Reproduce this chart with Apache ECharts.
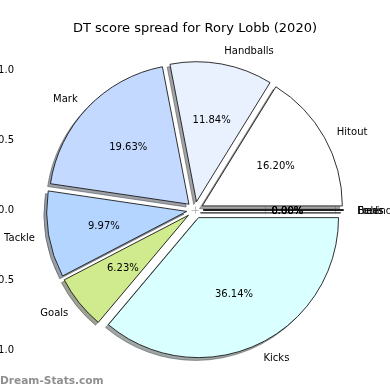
<!DOCTYPE html>
<html>
<head>
<meta charset="utf-8">
<script src="https://cdn.jsdelivr.net/npm/echarts@6/dist/echarts.min.js"></script>
<style>html,body{margin:0;padding:0;background:#fff}#chart{width:390px;height:390px}</style>
</head>
<body>
<div id="chart"></div>
<script>
const titleText = 'DT score spread for Rory Lobb (2020)';
const categories = ['Hitout', 'Handballs', 'Mark', 'Tackle', 'Goals', 'Kicks', 'Behinds', 'Frees', 'Fouls'];
const values = [156, 114, 189, 96, 60, 348, 0, 0, 0];
const colors = ['#ffffff', '#e9f1ff', '#c4d9ff', '#b4d5ff', '#d0ea8e', '#d9ffff', '#ffffff', '#ffffff', '#ffffff'];
const tickValues = [-1, -0.5, 0, 0.5, 1];
const watermark = 'Dream-Stats.com';

const EXPLODE = 0.06;
const FONT = '"DejaVu Sans", sans-serif';
const total = values.reduce((a, b) => a + b, 0);
let acc = 0;
const pieData = values.map((v, i) => { const d = [v, acc, acc + v, i]; acc += v; return d; });

function shade(hex) {
  const n = parseInt(hex.slice(1), 16);
  const r = Math.round(((n >> 16) & 255) * 0.3), g = Math.round(((n >> 8) & 255) * 0.3), b = Math.round((n & 255) * 0.3);
  return 'rgba(' + r + ',' + g + ',' + b + ',0.5)';
}

function renderItem(params, api) {
  const i = params.dataIndex;
  const v = api.value(0), s = api.value(1), e = api.value(2);
  const t1 = 2 * Math.PI * s / total, t2 = 2 * Math.PI * e / total;
  const mid = (t1 + t2) / 2;
  const ox = EXPLODE * Math.cos(mid), oy = EXPLODE * Math.sin(mid);
  const c = api.coord([ox, oy]);
  const sc = api.coord([ox - 0.02, oy - 0.02]);
  const r = api.size([1, 1])[1];
  const lx = ox + 1.1 * Math.cos(mid), ly = oy + 1.1 * Math.sin(mid);
  const lp = api.coord([lx, ly]);
  const pp = api.coord([ox + 0.6 * Math.cos(mid), oy + 0.6 * Math.sin(mid)]);
  const pct = (100 * v / total).toFixed(2) + '%';
  return {
    type: 'group',
    children: [
      { type: 'sector', z2: 0, shape: { cx: sc[0], cy: sc[1], r: r, r0: 0, startAngle: -t2, endAngle: -t1, clockwise: true },
        style: { fill: shade(colors[i]), stroke: shade(colors[i]), lineWidth: 1 } },
      { type: 'sector', z2: 1, shape: { cx: c[0], cy: c[1], r: r, r0: 0, startAngle: -t2, endAngle: -t1, clockwise: true },
        style: { fill: colors[i], stroke: '#1a1a1a', lineWidth: 0.9 } },
      { type: 'text', z2: 2, x: lp[0], y: lp[1] + 1.5,
        style: { text: categories[i], fill: '#000', font: '10px ' + FONT, align: lx > 0 ? 'left' : 'right', verticalAlign: 'middle' } },
      { type: 'text', z2: 2, x: pp[0], y: pp[1] + 1,
        style: { text: pct, fill: '#000', font: '10px ' + FONT, align: 'center', verticalAlign: 'middle' } }
    ]
  };
}

const fmt = v => v.toFixed(1).replace('-', '\u2212');
function axis(pos, showLabel, min, max, margin) {
  return {
    type: 'value', position: pos, min: min, max: max,
    splitLine: { show: false }, axisLine: { show: false },
    axisTick: { show: true, customValues: tickValues, length: 3.5, lineStyle: { color: '#bbbbbb', width: 1 } },
    axisLabel: { show: showLabel, customValues: tickValues, formatter: fmt, margin: margin, fontSize: 10, fontFamily: FONT, color: '#000' }
  };
}

const chart = echarts.init(document.getElementById('chart'), null, { renderer: 'canvas' });
chart.setOption({
  backgroundColor: '#fff',
  animation: false,
  title: { text: titleText, left: 'center', top: 17, textStyle: { fontFamily: FONT, fontSize: 13, fontWeight: 'normal', color: '#000' } },
  grid: { left: 21, right: 21, top: 35, bottom: 5, containLabel: false, outerBoundsMode: 'none' },
  xAxis: [axis('bottom', true, -1.243, 1.243, 6), axis('top', false, -1.243, 1.243, 3)],
  yAxis: [axis('left', true, -1.25, 1.25, 7), axis('right', false, -1.25, 1.25, 7)],
  graphic: [{ type: 'text', left: 0, top: 376, style: { text: watermark, fill: '#8f8f8f', font: 'bold 10.6px ' + FONT } }],
  series: [{
    type: 'custom', xAxisIndex: 0, yAxisIndex: 0, clip: false,
    renderItem: renderItem,
    encode: { x: -1, y: -1 },
    data: pieData
  }]
});
</script>
</body>
</html>
